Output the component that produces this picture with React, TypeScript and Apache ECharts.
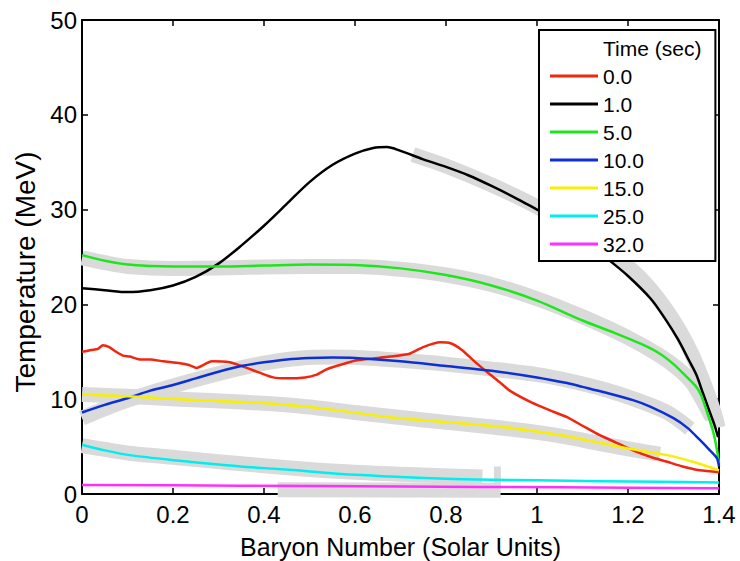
import React, { useEffect, useRef } from "react";
import * as echarts from "echarts";

// Axis ranges and tick steps
const massRange = { min: 0, max: 1.4, step: 0.2 };
const tempRange = { min: 0, max: 50, step: 10 };

const legendTitle = "Time (sec)";
const timeLabels = ["0.0", "1.0", "5.0", "10.0", "15.0", "25.0", "32.0"];

// Temperature profiles [baryon number, MeV] at each time
const t0: [number, number][] = [
  [0, 15.0], [0.02, 15.2], [0.035, 15.3], [0.046, 15.7], [0.06, 15.5], [0.075, 15.0],
  [0.09, 14.6], [0.105, 14.5], [0.127, 14.2], [0.15, 14.2], [0.178, 14.0], [0.215, 13.8],
  [0.235, 13.6], [0.252, 13.3], [0.27, 13.7], [0.285, 14.0], [0.325, 13.9], [0.345, 13.6],
  [0.362, 13.3], [0.39, 12.8], [0.42, 12.3], [0.45, 12.2], [0.49, 12.3], [0.516, 12.6],
  [0.535, 13.1], [0.552, 13.4], [0.58, 13.8], [0.604, 14.1], [0.64, 14.3], [0.677, 14.5],
  [0.72, 14.8], [0.75, 15.5], [0.787, 16.0], [0.81, 15.9], [0.835, 15.2], [0.86, 14.1],
  [0.897, 12.6], [0.918, 11.8], [0.94, 10.9], [0.99, 9.6], [1.03, 8.8], [1.066, 8.1],
  [1.1, 7.2], [1.138, 6.2], [1.175, 5.4], [1.211, 4.6], [1.25, 3.9], [1.286, 3.4],
  [1.32, 2.9], [1.358, 2.5], [1.4, 2.3],
];
const t1: [number, number][] = [
  [0, 21.7], [0.05, 21.5], [0.1, 21.3], [0.15, 21.5], [0.2, 22.0], [0.25, 22.9],
  [0.3, 24.3], [0.35, 26.2], [0.4, 28.3], [0.45, 30.6], [0.5, 32.9], [0.55, 34.7],
  [0.6, 35.9], [0.64, 36.5], [0.67, 36.6], [0.7, 36.2], [0.75, 35.3], [0.8, 34.5],
  [0.85, 33.6], [0.9, 32.5], [0.95, 31.3], [1.0, 30.0], [1.05, 28.7], [1.1, 27.0],
  [1.15, 25.0], [1.2, 23.0], [1.25, 20.6], [1.28, 18.6], [1.31, 16.3], [1.335, 14.0],
  [1.35, 12.6], [1.365, 10.6], [1.38, 8.6], [1.39, 7.3], [1.398, 6.0],
];
const t5: [number, number][] = [
  [0, 25.2], [0.05, 24.6], [0.1, 24.2], [0.15, 24.05], [0.2, 24.0], [0.3, 24.0],
  [0.4, 24.1], [0.5, 24.2], [0.6, 24.15], [0.7, 23.8], [0.8, 23.1], [0.9, 22.0],
  [1.0, 20.4], [1.1, 18.3], [1.17, 17.0], [1.23, 15.8], [1.27, 14.8], [1.3, 13.7],
  [1.33, 12.3], [1.35, 11.3], [1.36, 10.5], [1.374, 8.6], [1.387, 6.6], [1.395, 4.8],
  [1.4, 3.2],
];
const t10: [number, number][] = [
  [0, 8.6], [0.05, 9.4], [0.1, 10.1], [0.15, 10.9], [0.2, 11.5], [0.25, 12.2],
  [0.3, 12.9], [0.35, 13.5], [0.4, 13.9], [0.45, 14.2], [0.5, 14.35], [0.55, 14.4],
  [0.6, 14.35], [0.7, 14.0], [0.8, 13.5], [0.9, 13.0], [1.0, 12.3], [1.066, 11.7],
  [1.1, 11.3], [1.15, 10.7], [1.211, 9.9], [1.25, 9.2], [1.3, 8.0], [1.33, 7.0],
  [1.358, 5.7], [1.38, 4.6], [1.395, 3.8], [1.4, 2.9],
];
const t15: [number, number][] = [
  [0, 10.5], [0.1, 10.3], [0.215, 10.0], [0.3, 9.8], [0.4, 9.6], [0.472, 9.3],
  [0.55, 8.9], [0.677, 8.1], [0.8, 7.6], [0.918, 7.1], [1.0, 6.6], [1.066, 6.1],
  [1.138, 5.4], [1.2, 4.8], [1.286, 4.1], [1.35, 3.3], [1.4, 2.5],
];
const t25: [number, number][] = [
  [0, 5.2], [0.05, 4.6], [0.105, 4.1], [0.215, 3.5], [0.3, 3.1], [0.362, 2.85],
  [0.472, 2.5], [0.57, 2.1], [0.677, 1.85], [0.8, 1.6], [0.9, 1.5], [1.0, 1.45],
  [1.14, 1.35], [1.27, 1.3], [1.4, 1.2],
];
const t32: [number, number][] = [
  [0, 0.95], [0.35, 0.88], [0.7, 0.8], [1.05, 0.7], [1.4, 0.6],
];

// Broad fitted profiles drawn underneath
const fit1: [number, number][] = [
  [0.727, 35.8], [0.8, 34.6], [0.9, 32.6], [1.0, 30.3], [1.1, 27.5], [1.2, 24.0],
  [1.25, 21.6], [1.3, 18.3], [1.34, 14.8], [1.37, 11.3], [1.39, 8.5], [1.398, 7.0],
];
const fit5: [number, number][] = [
  [0, 24.9], [0.05, 24.4], [0.1, 24.0], [0.2, 23.8], [0.3, 23.85], [0.4, 23.95],
  [0.5, 24.0], [0.6, 24.0], [0.7, 23.7], [0.8, 23.1], [0.9, 22.1], [1.0, 20.6],
  [1.1, 18.7], [1.2, 16.5], [1.27, 14.6], [1.31, 13.2], [1.34, 11.8], [1.365, 9.8],
  [1.385, 8.0],
];
const fit10: [number, number][] = [
  [0, 8.0], [0.05, 9.0], [0.1, 9.9], [0.2, 11.4], [0.325, 13.0], [0.4, 13.8],
  [0.472, 14.3], [0.55, 14.45], [0.604, 14.4], [0.7, 14.1], [0.8, 13.7], [0.897, 13.2],
  [1.0, 12.6], [1.066, 12.0], [1.15, 11.0], [1.22, 9.9], [1.286, 8.6], [1.336, 6.9],
];
const fit15: [number, number][] = [
  [0, 10.5], [0.1, 10.3], [0.215, 10.0], [0.35, 9.7], [0.472, 9.3], [0.6, 8.6],
  [0.75, 7.8], [0.897, 7.1], [1.0, 6.5], [1.066, 6.0], [1.15, 5.2], [1.22, 4.6],
  [1.27, 4.2],
];
const fit25: [number, number][] = [
  [0, 5.1], [0.05, 4.7], [0.105, 4.3], [0.215, 3.8], [0.325, 3.3], [0.472, 2.7],
  [0.6, 2.3], [0.75, 2.0], [0.88, 1.8],
];
const fit25Edge: [number, number][] = [[0.913, 2.9], [0.913, 0.5]];
const fit32: [number, number][] = [[0.43, 0.45], [0.92, 0.4]];

const profiles = [t0, t1, t5, t10, t15, t25, t32];
const profileColors = ["#f2260e", "#000000", "#1ee61e", "#0c2fd6", "#f7f000", "#00eeee", "#ff30ff"];
const fits = [fit1, fit5, fit10, fit15, fit25, fit32];

const FONT = "Liberation Sans, Arial, Helvetica, sans-serif";

export default function App() {
  const ref = useRef<HTMLDivElement>(null);

  useEffect(() => {
    document.body.style.margin = "0";
    if (!ref.current) return;
    const chart = echarts.init(ref.current, null, { renderer: "svg" });

    const bandSeries = [...fits.map((d) => ({ d, w: 15 })), { d: fit25Edge, w: 7 }].map(
      ({ d, w }) => ({
        type: "line",
        data: d,
        symbol: "none",
        smooth: 0.3,
        silent: true,
        z: 1,
        lineStyle: { color: "#dadada", width: w, cap: "butt", join: "round" },
      })
    );

    const curveSeries = profiles.map((d, i) => ({
      name: timeLabels[i],
      type: "line",
      data: d,
      symbol: "none",
      smooth: i === 0 ? 0.2 : 0.3,
      z: 2,
      lineStyle: { color: profileColors[i], width: 2.5, join: "round" },
      itemStyle: { color: profileColors[i] },
    }));

    const tickStyle = { inside: true, length: 6, lineStyle: { color: "#000", width: 1.5 } };
    const lineStyle = { lineStyle: { color: "#000", width: 2 } };

    chart.setOption({
      animation: false,
      textStyle: { fontFamily: FONT },
      grid: { left: 82, right: 21, top: 20, bottom: 67, outerBoundsMode: "none" },
      legend: {
        data: [{ name: legendTitle, icon: "none" }, ...timeLabels],
        orient: "vertical",
        left: 539,
        top: 30,
        icon: "rect",
        itemWidth: 48,
        itemHeight: 3,
        itemGap: 0,
        selectedMode: false,
        padding: [4, 14, 3, 11],
        borderColor: "#000",
        borderWidth: 2,
        backgroundColor: "#fff",
        textStyle: { fontSize: 21, lineHeight: 28, color: "#000", fontFamily: FONT },
      },
      xAxis: [
        {
          type: "value",
          min: massRange.min,
          max: massRange.max,
          interval: massRange.step,
          name: "Baryon Number (Solar Units)",
          nameLocation: "middle",
          nameGap: 40,
          nameTextStyle: { fontSize: 25, color: "#000", fontFamily: FONT },
          axisLine: { show: true, onZero: false, ...lineStyle },
          axisTick: tickStyle,
          axisLabel: { fontSize: 24, color: "#000", margin: 8, fontFamily: FONT },
          splitLine: { show: false },
        },
        {
          type: "value",
          position: "top",
          min: massRange.min,
          max: massRange.max,
          interval: massRange.step,
          axisLine: { show: true, onZero: false, ...lineStyle },
          axisTick: tickStyle,
          axisLabel: { show: false },
          splitLine: { show: false },
        },
      ],
      yAxis: [
        {
          type: "value",
          min: tempRange.min,
          max: tempRange.max,
          interval: tempRange.step,
          name: "Temperature (MeV)",
          nameLocation: "middle",
          nameGap: 36,
          nameTextStyle: { fontSize: 28, color: "#000", fontFamily: FONT, padding: [0, 30, 0, 0] },
          axisLine: { show: true, onZero: false, ...lineStyle },
          axisTick: tickStyle,
          axisLabel: { fontSize: 24, color: "#000", margin: 5, fontFamily: FONT },
          splitLine: { show: false },
        },
        {
          type: "value",
          position: "right",
          min: tempRange.min,
          max: tempRange.max,
          interval: tempRange.step,
          axisLine: { show: true, onZero: false, ...lineStyle },
          axisTick: tickStyle,
          axisLabel: { show: false },
          splitLine: { show: false },
        },
      ],
      series: [
        ...bandSeries,
        ...curveSeries,
        { name: legendTitle, type: "line", data: [], symbol: "none" },
      ],
    });

    return () => chart.dispose();
  }, []);

  return <div ref={ref} style={{ width: 740, height: 561 }} />;
}
